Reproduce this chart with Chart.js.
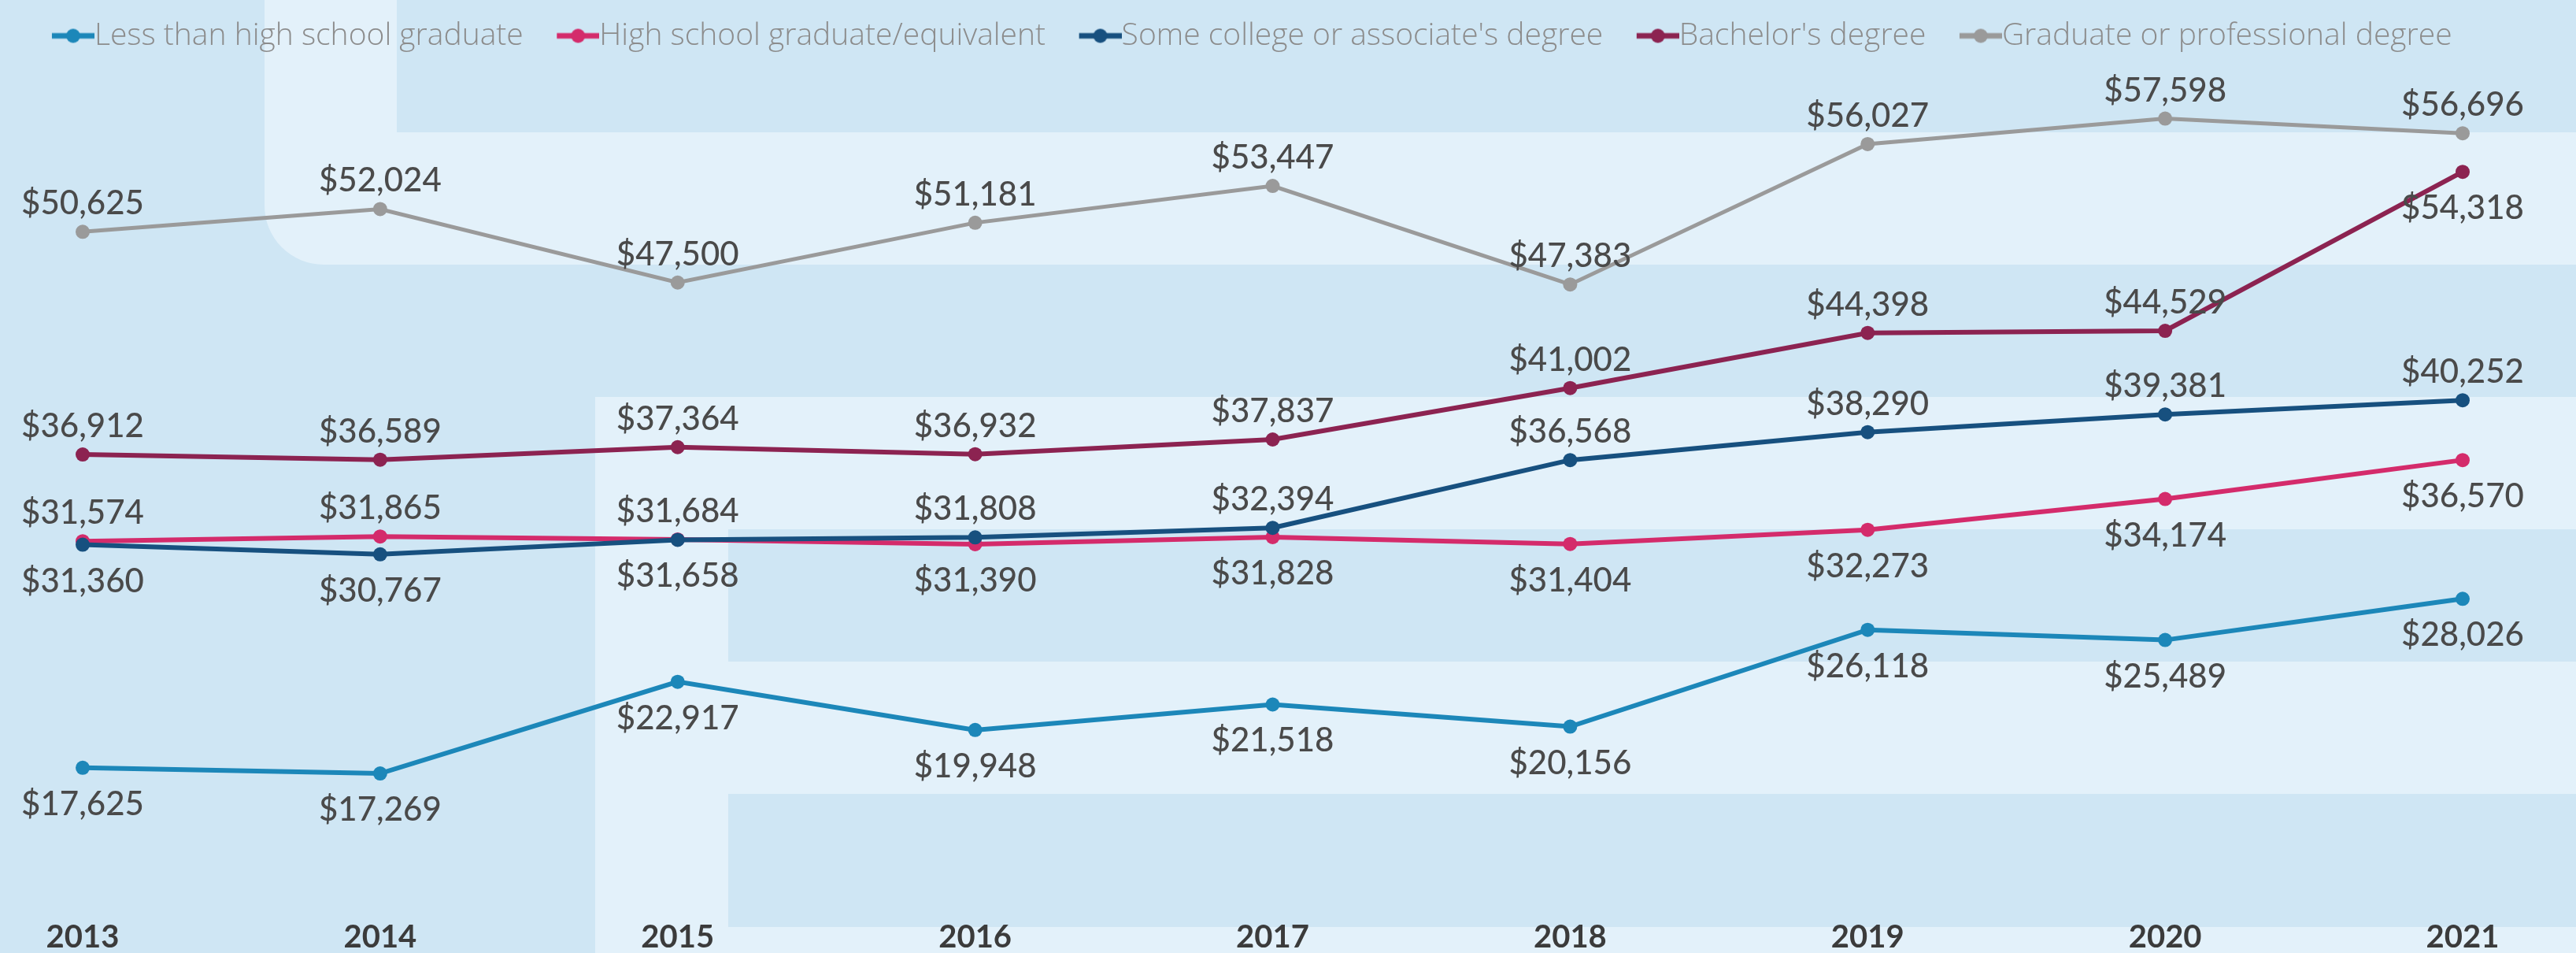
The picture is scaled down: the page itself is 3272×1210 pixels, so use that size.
<!DOCTYPE html>
<html>
<head>
<meta charset="utf-8">
<script src="https://cdn.jsdelivr.net/npm/chart.js@4.4.1/dist/chart.umd.min.js"></script>
<style>
  html, body { margin: 0; padding: 0; background: #cfe6f4; }
  #wrap { width: 3272px; height: 1210px; position: relative; }
</style>
</head>
<body>
<div id="wrap"><canvas id="incomeChart"></canvas></div>
<script>
// median earnings by educational attainment, 2013-2021
const years = ['2013', '2014', '2015', '2016', '2017', '2018', '2019', '2020', '2021'];

const seriesNames = [
    'Less than high school graduate',
    'High school graduate/equivalent',
    "Some college or associate's degree",
    "Bachelor's degree",
    'Graduate or professional degree'
];

const lessThanHighSchool = [17625, 17269, 22917, 19948, 21518, 20156, 26118, 25489, 28026];
const highSchool         = [31574, 31865, 31684, 31390, 31828, 31404, 32273, 34174, 36570];
const someCollege        = [31360, 30767, 31658, 31808, 32394, 36568, 38290, 39381, 40252];
const bachelors          = [36912, 36589, 37364, 36932, 37837, 41002, 44398, 44529, 54318];
const graduate           = [50625, 52024, 47500, 51181, 53447, 47383, 56027, 57598, 56696];

// where each value label sits relative to its point
const sideLess     = ['below', 'below', 'below', 'below', 'below', 'below', 'below', 'below', 'below'];
const sideHS       = ['above', 'above', 'above', 'below', 'below', 'below', 'below', 'below', 'below'];
const sideSome     = ['below', 'below', 'below', 'above', 'above', 'above', 'above', 'above', 'above'];
const sideBach     = ['above', 'above', 'above', 'above', 'above', 'above', 'above', 'above', 'below'];
const sideGrad     = ['above', 'above', 'above', 'above', 'above', 'above', 'above', 'above', 'above'];

const seriesColors = ['#1c87b9', '#d42b6b', '#17507f', '#8c2351', '#9a9a9a'];

const BG_DARK = '#cfe6f4';
const BG_LIGHT = '#e3f1fa';

/**
 * Little legend marker: a short line with a dot in its middle
 */
function legendMarker(color) {
    const c = document.createElement('canvas');
    c.width = 106;
    c.height = 24;
    const g = c.getContext('2d');
    g.strokeStyle = color;
    g.lineWidth = 7;
    g.beginPath();
    g.moveTo(52, 12);
    g.lineTo(106, 12);
    g.stroke();
    g.fillStyle = color;
    g.beginPath();
    g.arc(79, 12, 9, 0, Math.PI * 2);
    g.fill();
    return c;
}

// decorative panels behind the chart
const backdrop = {
    id: 'backdrop',
    beforeDraw(chart) {
        const { ctx, width, height } = chart;
        ctx.save();
        ctx.fillStyle = BG_DARK;
        ctx.fillRect(0, 0, width, height);

        ctx.fillStyle = BG_LIGHT;
        ctx.beginPath();
        ctx.moveTo(336, 0);
        ctx.lineTo(width, 0);
        ctx.lineTo(width, 336);
        ctx.lineTo(336 + 75, 336);
        ctx.arcTo(336, 336, 336, 336 - 75, 75);
        ctx.closePath();
        ctx.fill();
        ctx.fillStyle = BG_DARK;
        ctx.fillRect(504, 0, width - 504, 168);

        ctx.fillStyle = BG_LIGHT;
        ctx.fillRect(756, 504, width - 756, height - 504);
        ctx.fillStyle = BG_DARK;
        ctx.fillRect(925, 672, width - 925, 168);
        ctx.fillRect(925, 1008, width - 925, 169);
        ctx.restore();
    }
};

// push the plot area down under the legend
const legendSpacer = {
    id: 'legendSpacer',
    beforeInit(chart) {
        const fit = chart.legend.fit;
        chart.legend.fit = function () {
            fit.call(this);
            this.height += 26;
        };
    }
};

// "$12,345" labels next to every point
const valueLabels = {
    id: 'valueLabels',
    afterDatasetsDraw(chart) {
        const { ctx } = chart;
        ctx.save();
        ctx.font = '500 42px Lato';
        ctx.fillStyle = '#4a4a4a';
        ctx.textAlign = 'center';
        ctx.textBaseline = 'alphabetic';
        chart.data.datasets.forEach((ds, di) => {
            const meta = chart.getDatasetMeta(di);
            meta.data.forEach((pt, i) => {
                const txt = '$' + ds.data[i].toLocaleString('en-US');
                const y = ds.labelSide[i] === 'above' ? pt.y - 22 : pt.y + 60;
                ctx.fillText(txt, pt.x, y);
            });
        });
        ctx.restore();
    }
};

const allValues = [lessThanHighSchool, highSchool, someCollege, bachelors, graduate];
const allSides = [sideLess, sideHS, sideSome, sideBach, sideGrad];
const drawOrder = [1, 2, 1, 1, 1];

let datasets = seriesNames.map((name, i) => ({
    label: name,
    data: allValues[i],
    labelSide: allSides[i],
    borderColor: seriesColors[i],
    backgroundColor: seriesColors[i],
    pointBackgroundColor: seriesColors[i],
    pointBorderWidth: 0,
    pointRadius: 9,
    borderWidth: i === 4 ? 5 : 6,
    tension: 0,
    fill: false,
    order: drawOrder[i]
}));

let ctx = document.getElementById('incomeChart').getContext('2d');

new Chart(ctx, {
    type: 'line',
    data: { labels: years, datasets },
    options: {
        responsive: true,
        maintainAspectRatio: false,
        animation: false,
        devicePixelRatio: 1,
        layout: { padding: { left: 20, right: 144, top: 16, bottom: 0 } },
        plugins: {
            legend: {
                position: 'top',
                labels: {
                    usePointStyle: true,
                    pointStyleWidth: 67,
                    padding: 10,
                    color: '#8c8c8c',
                    font: { family: 'Open Sans', size: 39, weight: '300' },
                    generateLabels: function (chart) {
                        const items = Chart.defaults.plugins.legend.labels.generateLabels(chart);
                        items.sort((a, b) => a.datasetIndex - b.datasetIndex);
                        items.forEach(it => {
                            it.pointStyle = legendMarker(seriesColors[it.datasetIndex]);
                        });
                        return items;
                    }
                }
            },
            tooltip: { enabled: false },
            title: { display: false }
        },
        scales: {
            x: {
                grid: { display: false, drawTicks: false },
                border: { display: false },
                ticks: {
                    color: '#3b3b3b',
                    padding: 34,
                    font: { family: 'Lato', size: 40, weight: 'bold' }
                },
                afterFit(scale) { scale.height = 78; }
            },
            y: {
                min: 10000,
                max: 60000,
                grid: { display: false, drawTicks: false },
                border: { display: false },
                ticks: { display: false },
                afterFit(scale) { scale.width = 85; }
            }
        }
    },
    plugins: [backdrop, legendSpacer, valueLabels]
});
</script>
</body>
</html>
